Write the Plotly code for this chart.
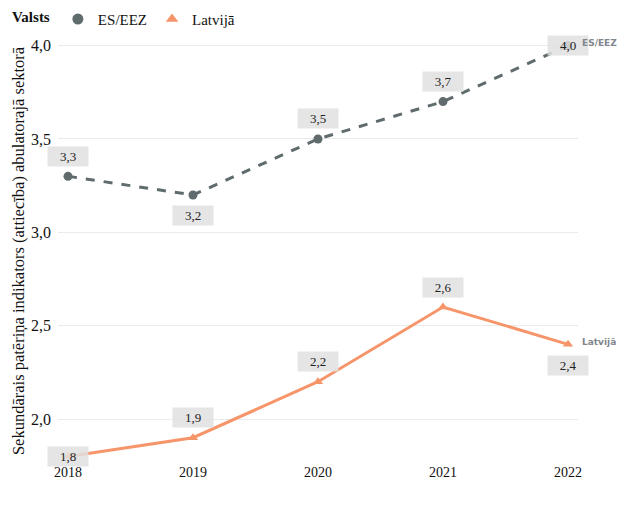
import plotly.graph_objects as go

years = [2018, 2019, 2020, 2021, 2022]
es_eez = [3.3, 3.2, 3.5, 3.7, 4.0]
latvija = [1.8, 1.9, 2.2, 2.6, 2.4]
es_label_pos = [20, -21, 20, 20, 0]
lv_label_pos = [0, 20, 20, 20, -21]
y_ticks = [2.0, 2.5, 3.0, 3.5, 4.0]

SERIF = "'Liberation Serif', 'Times New Roman', Times, serif"
GRAY = "#5f6b6d"
ORANGE = "#f7956a"

fig = go.Figure()
fig.add_trace(go.Scatter(
    x=years, y=es_eez, name="ES/EEZ", mode="lines+markers", showlegend=False,
    line=dict(color=GRAY, width=3, dash="dash"),
    marker=dict(color=GRAY, size=9, symbol="circle"),
))
fig.add_trace(go.Scatter(
    x=years, y=latvija, name="Latvijā", mode="lines+markers", showlegend=False,
    line=dict(color=ORANGE, width=3),
    marker=dict(color=ORANGE, size=9, symbol="triangle-up"),
))
# legend entries (markers only)
fig.add_trace(go.Scatter(x=[None], y=[None], name="ES/EEZ", mode="markers",
                         marker=dict(color=GRAY, size=11, symbol="circle")))
fig.add_trace(go.Scatter(x=[None], y=[None], name="Latvijā", mode="markers",
                         marker=dict(color=ORANGE, size=11, symbol="triangle-up")))

def fmt(v):
    return f"{v:.1f}".replace(".", ",")

for series, offs in ((es_eez, es_label_pos), (latvija, lv_label_pos)):
    for x, y, o in zip(years, series, offs):
        fig.add_annotation(
            x=x, y=y, text=fmt(y), showarrow=False, yshift=o,
            bgcolor="rgba(225,225,225,0.85)", borderpad=2,
            font=dict(family=SERIF, size=13, color="#222"),
            width=36,
        )

fig.add_annotation(x=2022, y=es_eez[-1], text="<b>ES/EEZ</b>", showarrow=False,
                   xanchor="left", xshift=12, yshift=3,
                   font=dict(family="DejaVu Sans", size=9, color="#7f868c"))
fig.add_annotation(x=2022, y=latvija[-1], text="<b>Latvijā</b>", showarrow=False,
                   xanchor="left", xshift=12, yshift=2,
                   font=dict(family="DejaVu Sans", size=9, color="#7f868c"))

fig.update_layout(
    width=639, height=511,
    margin=dict(l=50, r=69, t=32, b=57, autoexpand=False),
    plot_bgcolor="white", paper_bgcolor="white",
    separators=", ",
    font=dict(family=SERIF, color="#111"),
    showlegend=True,
    legend=dict(
        orientation="h", x=0.003, xref="container", xanchor="left",
        y=0.978, yref="container", yanchor="middle",
        title=dict(text="<b>Valsts</b>", font=dict(size=15, family=SERIF)),
        font=dict(size=15, family=SERIF), itemwidth=30, tracegroupgap=0,
        bgcolor="rgba(0,0,0,0)",
    ),
    xaxis=dict(
        range=[2017.92, 2022.08], tickvals=years, ticktext=[str(y) for y in years],
        showgrid=False, zeroline=False, showline=False, ticks="",
        tickfont=dict(size=14, family=SERIF), automargin=False,
    ),
    yaxis=dict(
        range=[1.77, 4.03], tickvals=y_ticks, tickformat=".1f",
        showgrid=True, gridcolor="#ebebeb", zeroline=False, showline=False, ticks="",
        tickfont=dict(size=16, family=SERIF), automargin=False,
        ticklabelstandoff=6,
        title=dict(text="Sekundārais patēriņa indikators (attiecība) abulatorajā sektorā",
                   font=dict(size=16.5, family=SERIF), standoff=2),
    ),
)

fig.write_html("out.html")
